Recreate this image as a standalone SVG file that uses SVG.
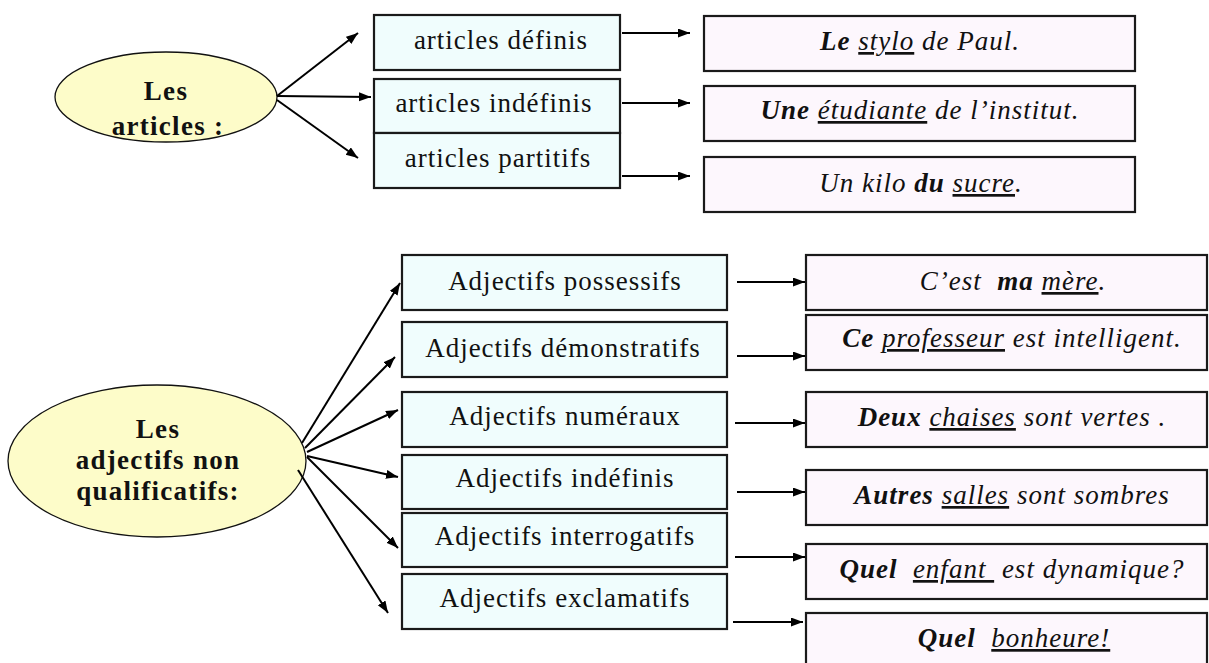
<svg xmlns="http://www.w3.org/2000/svg" width="1209" height="663" viewBox="0 0 1209 663">
<style>
text{font-family:"Liberation Serif","Times New Roman",serif;font-size:27px;fill:#111;white-space:pre;letter-spacing:1px}
.el{fill:#fdfcc9;stroke:#111;stroke-width:1.3}
.cat{fill:#f0fdfd;stroke:#1a1a1a;stroke-width:2.2}
.ex{fill:#fdf7fd;stroke:#1a1a1a;stroke-width:2.2}
.h{font-weight:bold;letter-spacing:1.3px}
.i{font-style:italic}
.b{font-weight:bold}
.u{text-decoration:underline}
.c line{stroke:#000;stroke-width:2;marker-end:url(#ah)}
</style>
<defs>
<marker id="ah" markerUnits="userSpaceOnUse" markerWidth="13" markerHeight="10" refX="12" refY="4.5" orient="auto">
<path d="M0,0 L12,4.5 L0,9 z" fill="#000"/>
</marker>
</defs>

<g id="root-articles">
<ellipse class="el" cx="166" cy="97" rx="111" ry="45"/>
<text class="h" x="166" y="100" text-anchor="middle">Les</text>
<text class="h" x="168" y="135" text-anchor="middle">articles :</text>
</g>

<g id="art-definis"><rect class="cat" x="374" y="15" width="246" height="55"/><text x="501" y="49" text-anchor="middle">articles définis</text></g>
<g id="art-indefinis"><rect class="cat" x="374" y="79" width="246" height="54"/><text x="494" y="112" text-anchor="middle">articles indéfinis</text></g>
<g id="art-partitifs"><rect class="cat" x="374" y="133" width="246" height="55"/><text x="498" y="167" text-anchor="middle">articles partitifs</text></g>

<g id="ex-le"><rect class="ex" x="704" y="16" width="431" height="55"/>
<text class="i" x="920" y="50" text-anchor="middle"><tspan class="b">Le</tspan> <tspan class="u">stylo</tspan> de Paul.</text></g>
<g id="ex-une"><rect class="ex" x="704" y="86" width="431" height="55"/>
<text class="i" x="920" y="119" text-anchor="middle"><tspan class="b">Une</tspan> <tspan class="u">étudiante</tspan> de l’institut.</text></g>
<g id="ex-du"><rect class="ex" x="704" y="157" width="431" height="55"/>
<text class="i" x="921" y="192" text-anchor="middle">Un kilo <tspan class="b">du</tspan> <tspan class="u">sucre</tspan>.</text></g>

<g id="root-adjectifs">
<ellipse class="el" cx="157" cy="461" rx="149" ry="76"/>
<text class="h" x="158" y="438" text-anchor="middle">Les</text>
<text class="h" x="158" y="469" text-anchor="middle">adjectifs non</text>
<text class="h" x="158" y="500" text-anchor="middle">qualificatifs:</text>
</g>

<g id="adj-possessifs"><rect class="cat" x="402" y="255" width="325" height="55"/><text x="565" y="290" text-anchor="middle">Adjectifs possessifs</text></g>
<g id="adj-demonstratifs"><rect class="cat" x="402" y="322" width="325" height="55"/><text x="563" y="357" text-anchor="middle">Adjectifs démonstratifs</text></g>
<g id="adj-numeraux"><rect class="cat" x="402" y="392" width="325" height="55"/><text x="565" y="425" text-anchor="middle">Adjectifs numéraux</text></g>
<g id="adj-indefinis"><rect class="cat" x="402" y="455" width="325" height="54"/><text x="565" y="487" text-anchor="middle">Adjectifs indéfinis</text></g>
<g id="adj-interrogatifs"><rect class="cat" x="402" y="513" width="325" height="54"/><text x="565" y="545" text-anchor="middle">Adjectifs interrogatifs</text></g>
<g id="adj-exclamatifs"><rect class="cat" x="402" y="574" width="325" height="55"/><text x="565" y="607" text-anchor="middle">Adjectifs exclamatifs</text></g>

<g id="ex-ma"><rect class="ex" x="806" y="255" width="401" height="55"/>
<text class="i" x="1013" y="290" text-anchor="middle">C’est  <tspan class="b">ma</tspan> <tspan class="u">mère</tspan>.</text></g>
<g id="ex-ce"><rect class="ex" x="806" y="315" width="401" height="55"/>
<text class="i" x="1012" y="347" text-anchor="middle"><tspan class="b">Ce</tspan> <tspan class="u">professeur</tspan> est intelligent.</text></g>
<g id="ex-deux"><rect class="ex" x="806" y="392" width="401" height="55"/>
<text class="i" x="1012" y="426" text-anchor="middle"><tspan class="b">Deux</tspan> <tspan class="u">chaises</tspan> sont vertes .</text></g>
<g id="ex-autres"><rect class="ex" x="806" y="470" width="401" height="55"/>
<text class="i" x="1012" y="504" text-anchor="middle"><tspan class="b">Autres</tspan> <tspan class="u">salles</tspan> sont sombres</text></g>
<g id="ex-quel1"><rect class="ex" x="806" y="544" width="401" height="55"/>
<text class="i" x="1012" y="578" text-anchor="middle"><tspan class="b">Quel</tspan>  <tspan class="u">enfant </tspan> est dynamique?</text></g>
<g id="ex-quel2"><rect class="ex" x="806" y="613" width="401" height="56"/>
<text class="i" x="1014" y="647" text-anchor="middle"><tspan class="b">Quel</tspan>  <tspan class="u">bonheure!</tspan></text></g>

<g id="connectors" class="c">
<line x1="277" y1="96" x2="358" y2="33"/>
<line x1="277" y1="96" x2="371" y2="97"/>
<line x1="277" y1="100" x2="358" y2="158"/>
<line x1="622" y1="33" x2="690" y2="33"/>
<line x1="622" y1="103" x2="690" y2="103"/>
<line x1="622" y1="176" x2="690" y2="176"/>
<line x1="302" y1="443" x2="400" y2="283"/>
<line x1="305" y1="448" x2="395" y2="357"/>
<line x1="307" y1="452" x2="398" y2="410"/>
<line x1="307" y1="456" x2="398" y2="477"/>
<line x1="307" y1="457" x2="398" y2="548"/>
<line x1="298" y1="470" x2="388" y2="613"/>
<line x1="737" y1="282" x2="805" y2="282"/>
<line x1="737" y1="356" x2="805" y2="356"/>
<line x1="735" y1="423" x2="805" y2="423"/>
<line x1="737" y1="492" x2="805" y2="492"/>
<line x1="735" y1="557" x2="805" y2="557"/>
<line x1="733" y1="622" x2="803" y2="622"/>
</g>
</svg>
